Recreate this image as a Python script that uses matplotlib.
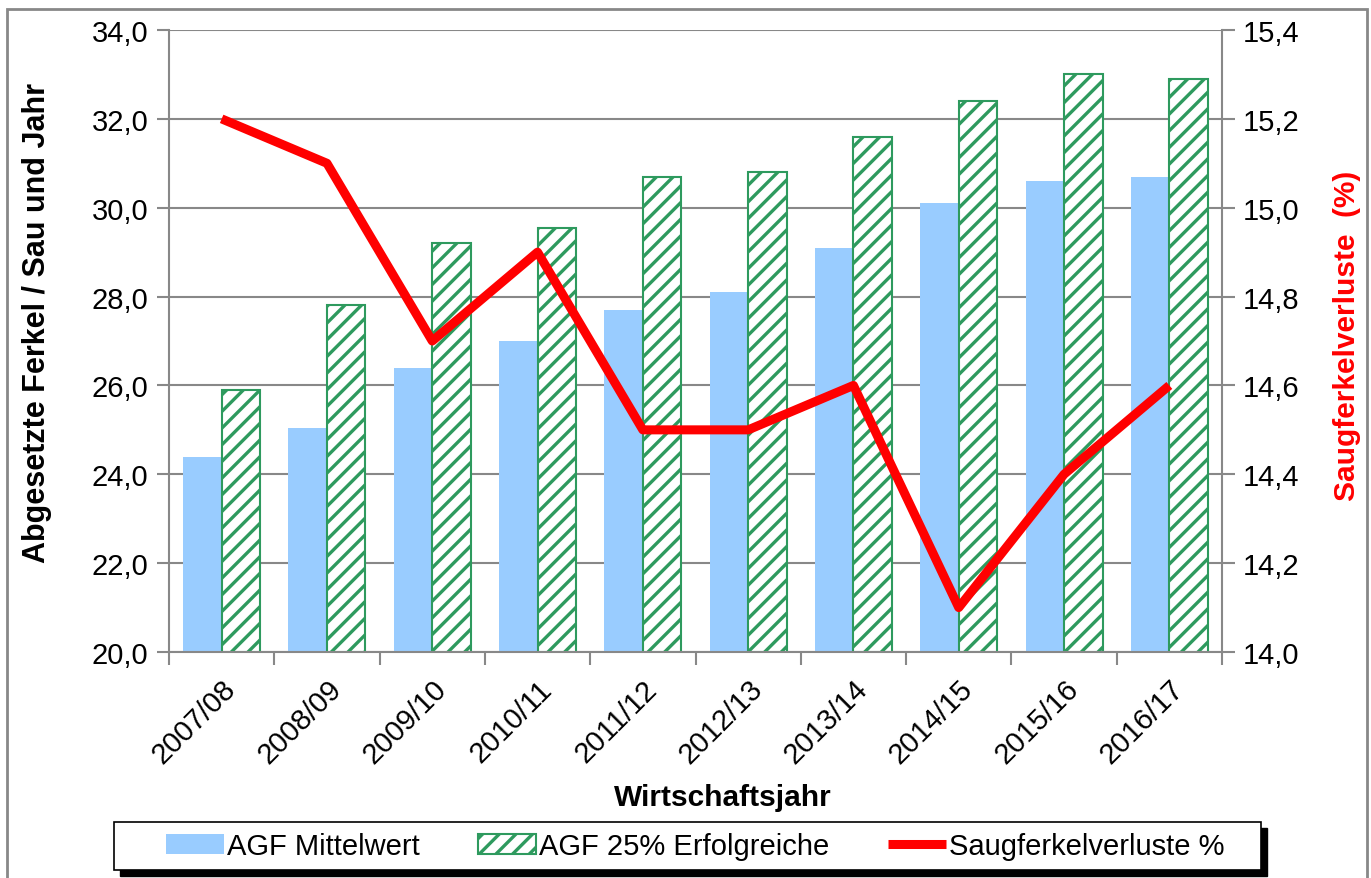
import numpy as np
import matplotlib
matplotlib.use("Agg")
import matplotlib.pyplot as plt
from matplotlib.patches import Rectangle

plt.rcParams['font.family'] = ['Liberation Sans', 'DejaVu Sans']
plt.rcParams['hatch.linewidth'] = 2.4

# data
jahre = ['2007/08', '2008/09', '2009/10', '2010/11', '2011/12',
         '2012/13', '2013/14', '2014/15', '2015/16', '2016/17']
agf_mittel = [24.4, 25.05, 26.4, 27.0, 27.7, 28.1, 29.1, 30.1, 30.6, 30.7]
agf_top25 = [25.9, 27.8, 29.2, 29.55, 30.7, 30.8, 31.6, 32.4, 33.0, 32.9]
verluste = [15.2, 15.1, 14.7, 14.9, 14.5, 14.5, 14.6, 14.1, 14.4, 14.6]

blau = '#99ccff'
gruen = '#2e9a5e'
rot = '#ff0000'
grau = '#888888'
W, H = 1371, 879

fig = plt.figure(figsize=(13.71, 8.79), dpi=100)
ax = fig.add_axes([169/W, 1-653/H, (1222-169)/W, (653-31)/H])
ax2 = ax.twinx()

x = np.arange(len(jahre))
w = 0.366
b1 = ax.bar(x - w/2, [v - 20 for v in agf_mittel], w, bottom=20, color=blau,
            label='AGF Mittelwert', zorder=2)
b2 = ax.bar(x + w/2, [v - 20 for v in agf_top25], w, bottom=20, color='white',
            edgecolor=gruen, hatch='//', linewidth=1.5,
            label='AGF 25% Erfolgreiche', zorder=2)
l1, = ax2.plot(x, verluste, color=rot, lw=6.5, solid_joinstyle='round',
               solid_capstyle='butt', label='Saugferkelverluste %')

ax.set_xlim(-0.5, len(jahre) - 0.5)
ax.set_ylim(20, 34)
ax2.set_ylim(14.0, 15.4)
ax.set_yticks(np.arange(20, 34.1, 2))
ax.set_yticklabels([f'{v:.1f}'.replace('.', ',') for v in np.arange(20, 34.1, 2)])
ax2.set_yticks(np.arange(14.0, 15.41, 0.2))
ax2.set_yticklabels([f'{v:.1f}'.replace('.', ',') for v in np.arange(14.0, 15.41, 0.2)])

ax.yaxis.grid(True, color=grau, lw=1.5, zorder=0)
ax.set_axisbelow(True)
ax.set_xticks(np.arange(-0.5, len(jahre), 1.0))
ax.set_xticklabels([])
ax.set_xticks(x, minor=True)
ax.set_xticklabels(jahre, minor=True, rotation=45, ha='right',
                   rotation_mode='anchor', fontsize=21)
ax.tick_params(axis='x', which='minor', length=0, pad=16)
ax.tick_params(axis='x', which='major', length=9, width=1.5, color=grau)
ax.tick_params(axis='y', length=9, width=1.5, color=grau, labelsize=21, pad=6)
ax2.tick_params(axis='y', length=9, width=1.5, color=grau, labelsize=21, pad=6)

for a in (ax, ax2):
    for s in a.spines.values():
        s.set_visible(False)
ax.spines['left'].set_visible(True)
ax.spines['bottom'].set_visible(True)
ax2.spines['right'].set_visible(True)
for s in (ax.spines['left'], ax.spines['bottom'], ax2.spines['right']):
    s.set_color(grau)
    s.set_linewidth(1.5)

fig.text(37/W, 1-323/H, 'Abgesetzte Ferkel / Sau und Jahr', fontsize=22,
         fontweight='bold', rotation=90, ha='center', va='center')
fig.text(1347/W, 1-336/H, 'Saugferkelverluste  (%)', fontsize=21.5,
         fontweight='bold', color=rot, rotation=90, ha='center', va='center')
fig.text(723/W, 1-798/H, 'Wirtschaftsjahr', fontsize=21.5,
         fontweight='bold', ha='center', va='center')

# outer chart border
fig.patches.append(Rectangle((7/W, -0.05), (1367-7)/W, 1.05 - 10/H,
                             transform=fig.transFigure, fill=False,
                             edgecolor=grau, lw=2))

# legend box with shadow
fig.patches.append(Rectangle((120/W, 1-877/H), (1261-114)/W, (871-823)/H,
                             transform=fig.transFigure, color='black', zorder=1))
fig.patches.append(Rectangle((114/W, 1-871/H), (1261-114)/W, (871-823)/H,
                             transform=fig.transFigure, facecolor='white',
                             edgecolor='black', lw=1.2, zorder=2))
leg = fig.legend(handles=[b1, b2, l1], loc='center', ncol=3,
                 bbox_to_anchor=((171 + 1219) / 2 / W, 1 - 847 / H),
                 fontsize=21, frameon=False, handlelength=2.0,
                 handletextpad=0.1, columnspacing=2.0, borderpad=0.2)
leg.set_zorder(10)

fig.savefig('out.png', dpi=100)
